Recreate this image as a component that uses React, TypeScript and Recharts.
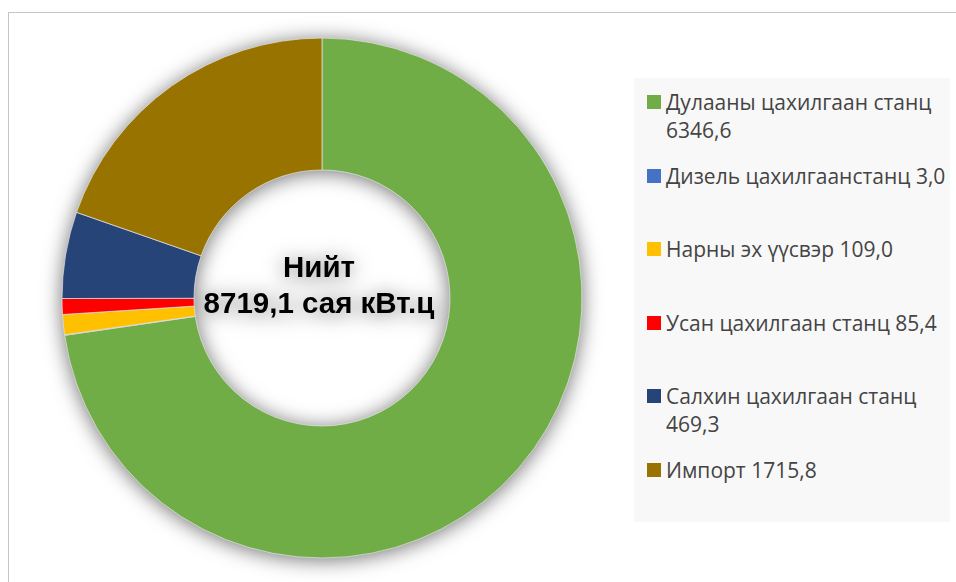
import { PieChart, Pie, Cell, Legend, Label } from "recharts";

const names = [
  "Дулааны цахилгаан станц",
  "Дизель цахилгаанстанц",
  "Нарны эх үүсвэр",
  "Усан цахилгаан станц",
  "Салхин цахилгаан станц",
  "Импорт",
];
const values = [6346.6, 3.0, 109.0, 85.4, 469.3, 1715.8];
const valueLabels = ["6346,6", "3,0", "109,0", "85,4", "469,3", "1715,8"];
const colors = ["#70AD47", "#4472C4", "#FFC000", "#FF0000", "#264478", "#997300"];
const centerLines = ["Нийт", "8719,1 сая кВт.ц"];

const CX = 322;
const CY = 298;

const data = names.map((n, i) => ({ name: n, value: values[i], label: `${n} ${valueLabels[i]}` }));

function LegendBox() {
  return (
    <div style={{ background: "#f8f8f8", width: 316, height: 444, paddingTop: 10, boxSizing: "border-box",
      fontFamily: "'Open Sans', sans-serif", fontSize: 21, color: "#444" }}>
      {data.map((d, i) => (
        <div key={d.name} style={{ height: 73.5, display: "flex", alignItems: "flex-start" }}>
          <div style={{ width: 14, height: 14, background: colors[i], marginLeft: 13, marginTop: 7, flexShrink: 0 }} />
          <div style={{ marginLeft: 5, lineHeight: "28px", width: 282 }}>{d.label}</div>
        </div>
      ))}
    </div>
  );
}

function CenterLabel(props: any) {
  const vb = props.viewBox || {};
  const cx = (vb.cx ?? CX) - 3;
  const cy = vb.cy ?? CY;
  return (
    <text x={cx} y={cy} textAnchor="middle" fontFamily="'Liberation Sans', Arial, sans-serif"
      fontWeight="bold" fontSize={29.5} fill="#000">
      <tspan x={cx} y={cy - 21}>{centerLines[0]}</tspan>
      <tspan x={cx} y={cy + 15}>{centerLines[1]}</tspan>
    </text>
  );
}

export default function App() {
  return (
    <div style={{ position: "relative", width: 956, height: 582, overflow: "hidden", background: "#fff" }}>
      <style>{"body{margin:0;overflow:hidden} .recharts-pie{filter:drop-shadow(0 2px 10px rgba(0,0,0,0.55))}"}</style>
      <div style={{ position: "absolute", left: 8, top: 12, width: 1000, height: 1000, border: "1px solid #c4c4c4" }} />
      <div style={{ position: "absolute", left: 0, top: 0 }}>
        <PieChart width={956} height={582} margin={{ top: 0, right: 0, bottom: 0, left: 0 }}>
          <Pie data={data} dataKey="value" nameKey="name" cx={CX} cy={CY} innerRadius={128} outerRadius={260}
            startAngle={90} endAngle={-270} stroke="#e0e0e0" strokeWidth={0.75} isAnimationActive={false}>
            {data.map((d, i) => <Cell key={d.name} fill={colors[i]} />)}
            <Label content={CenterLabel} position="center" />
          </Pie>
          <Legend layout="vertical" align="right" verticalAlign="top" content={LegendBox}
            wrapperStyle={{ left: 634, top: 78, width: 316, height: 444 }} />
        </PieChart>
      </div>
    </div>
  );
}
